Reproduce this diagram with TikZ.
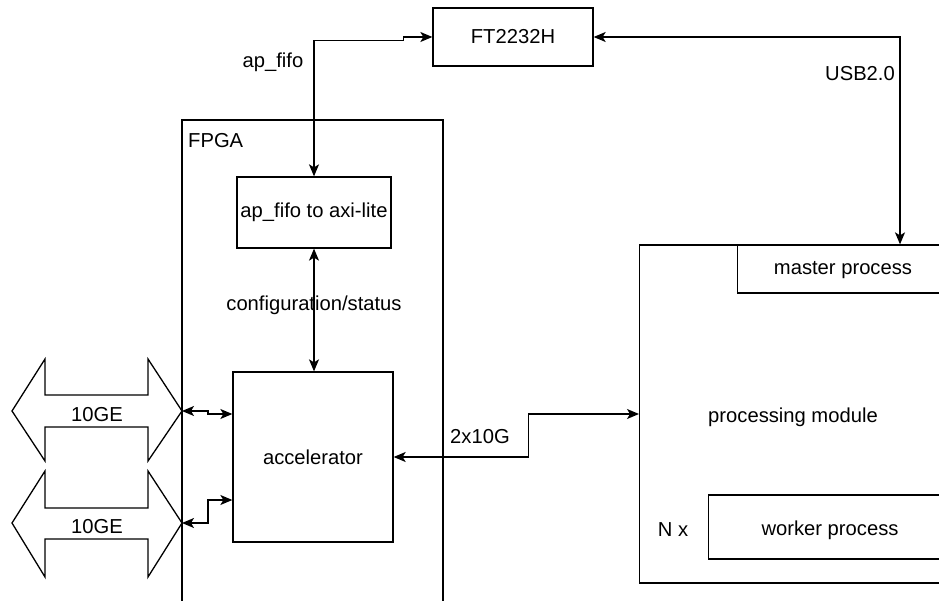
\documentclass[tikz,border=0pt]{standalone}
\usepackage{fontspec}
\setmainfont{Liberation Sans}
\usetikzlibrary{arrows.meta,calc}
\begin{document}
\begin{tikzpicture}[x=1pt,y=-1pt,
  every node/.style={font=\fontsize{20.2}{23}\selectfont},
  blk/.style={draw,line width=1.3pt,fill=white,rectangle,inner sep=0pt},
  link/.style={line width=1.3pt,{Stealth[length=12pt,width=10pt,inset=3pt]}-{Stealth[length=12pt,width=10pt,inset=3pt]}},
  ge/.style={draw,line width=1.3pt,fill=white,line join=miter},
  txt/.style={inner sep=0pt}]
\useasboundingbox (0,0) rectangle (939,601);
\clip (0,0) rectangle (939,601);

% FPGA container and its blocks
\node[blk,minimum width=261pt,minimum height=520pt] (fpga) at (312.5,380) {};
\node[txt,anchor=west] (fpgalbl) at (188,141) {FPGA};
\node[blk,minimum width=154pt,minimum height=71pt] (apfifo) at (314,212.5) {ap\_fifo to axi-lite};
\node[blk,minimum width=160pt,minimum height=170pt] (acc) at (313,457) {accelerator};

% USB bridge
\node[blk,minimum width=160pt,minimum height=58pt] (ft) at (513,37) {FT2232H};

% processing module with its processes (continuing past the right edge)
\node[blk,minimum width=420pt,minimum height=338pt,anchor=west] (proc) at (639,414) {};
\node[txt] (proclbl) at (793,417) {processing module};
\node[blk,minimum width=300pt,minimum height=48pt,anchor=west] (master) at (737,269) {};
\node[txt] (masterlbl) at (843,270) {master process};
\node[blk,minimum width=300pt,minimum height=64pt,anchor=west] (worker) at (708,527) {};
\node[txt] (workerlbl) at (830,530) {worker process};
\node[txt] (nx) at (673,530) {N x};

% 10GE ports
\path[ge] (12,411) -- (45,359) -- (45,395) -- (148,395) -- (148,359) -- (182,411)
  -- (148,461) -- (148,427) -- (45,427) -- (45,461) -- cycle;
\path[ge] (12,523) -- (45,471) -- (45,508) -- (148,508) -- (148,471) -- (182,523)
  -- (148,577) -- (148,539) -- (45,539) -- (45,577) -- cycle;
\coordinate (ge1) at (182,411);
\coordinate (ge2) at (182,523);
\node[txt] (ge1lbl) at (97,415) {10GE};
\node[txt] (ge2lbl) at (97,527) {10GE};

% connections
\draw[link] (ft.west) -- ++(-29,0) -- ++(0,3.5) -| (apfifo.north);
\draw[link] (ft.east) -| ([xshift=163pt]master.west |- master.north);
\draw[link] (apfifo.south) -- (apfifo.south |- acc.north);
\draw[link] (acc.east) -- ([xshift=135pt]acc.east) |- (proc.west);
\draw[link] (ge1) -- ++(26,0) |- ([yshift=43pt]acc.west);
\draw[link] (ge2) -- ++(26,0) |- ([yshift=-43pt]acc.west);

% connection labels
\node[txt] (lapf) at (273,62) {ap\_fifo};
\node[txt] (lusb) at (860,74) {USB2.0};
\node[txt] (lcfg) at (314,305) {configuration/status};
\node[txt] (l2x) at (480,437) {2x10G};
\end{tikzpicture}
\end{document}
